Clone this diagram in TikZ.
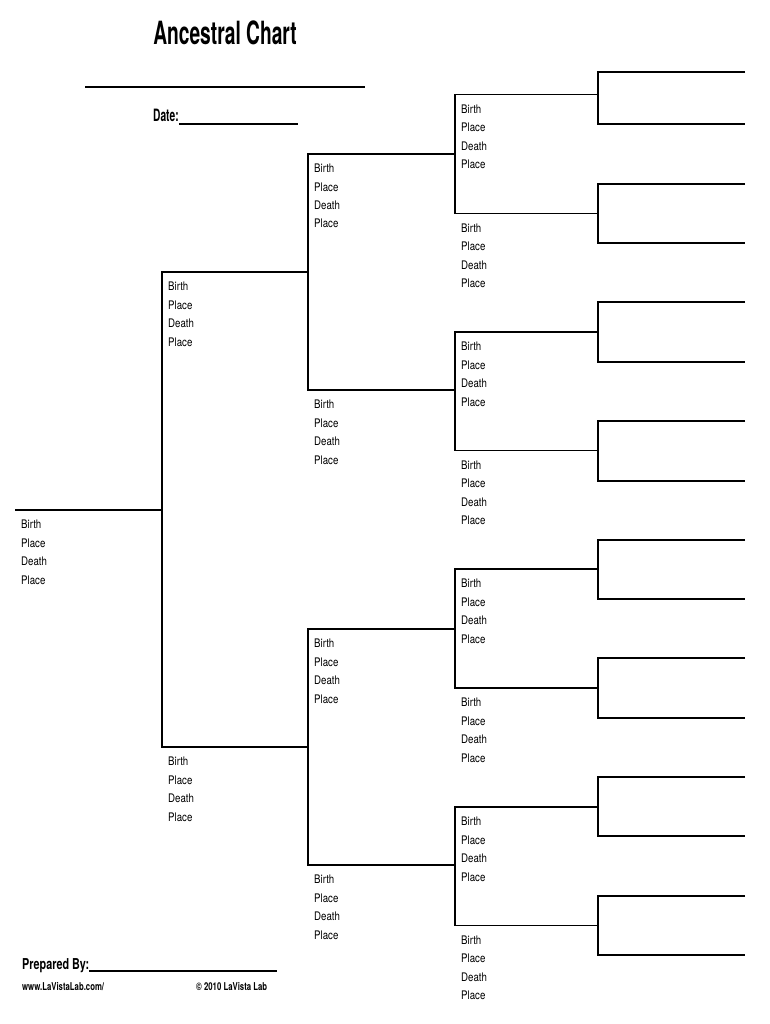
\documentclass[tikz,border=0pt]{standalone}
\usepackage{fontspec}
\setmainfont{TeX Gyre Heros}[FakeStretch=0.82]
\newfontfamily\headfont{TeX Gyre Heros}[FakeStretch=0.6]
\newfontfamily\formfont{TeX Gyre Heros}[FakeStretch=0.72]
\usetikzlibrary{positioning, calc}

\begin{document}
\begin{tikzpicture}[
  x=1pt, y=-1pt,
  rule/.style={line width=1.8pt, line join=miter},
  blank/.style={line width=1.2pt},
  vital/.style={anchor=base west, align=left, inner sep=0pt, font=\fontsize{11.8}{18.4}\selectfont},
  small/.style={anchor=base west, inner sep=0pt, font=\formfont\bfseries\fontsize{10.8}{12}\selectfont}
]
\useasboundingbox (0,0) rectangle (770,1024);

% header
\node[anchor=base, inner sep=0pt, font=\headfont\bfseries\fontsize{32}{36}\selectfont] (title) at (225,45) {Ancestral Chart};
\coordinate (nameL) at (85,87);
\coordinate (nameR) at (365,87);
\draw[rule] (nameL) -- (nameR);
\node[anchor=base west, inner sep=0pt, font=\headfont\bfseries\fontsize{17}{20}\selectfont] (date) at (153,122) {Date:};
\coordinate (dateR) at (298,124);
\draw[blank] (date.base east) ++(0,2) -- (dateR);

% people, numbered 1 (root) to 31
\coordinate (s1) at (15,510);   \coordinate (e1) at (162,510);
\foreach \k/\y in {2/272, 3/747}{
  \coordinate (s\k) at (162,\y); \coordinate (e\k) at (308,\y);}
\foreach \k/\y in {4/154, 5/390, 6/629, 7/865}{
  \coordinate (s\k) at (308,\y); \coordinate (e\k) at (455,\y);}
\foreach \k/\y in {8/94.5, 9/213.5, 10/332, 11/450.5, 12/569, 13/688, 14/807, 15/925.5}{
  \coordinate (s\k) at (455,\y); \coordinate (e\k) at (598,\y);}
\foreach \k/\y in {16/72, 17/124, 18/184, 19/243, 20/302, 21/362, 22/421, 23/481,
                   24/540, 25/599, 26/658, 27/718, 28/777, 29/836, 30/896, 31/955}{
  \coordinate (s\k) at (598,\y); \coordinate (e\k) at (745,\y);}

\draw[rule] (s1) -- (e1);
\foreach \k [evaluate=\k as \f using int(2*\k), evaluate=\k as \m using int(2*\k+1)] in {1,...,15}
  \draw[rule] (e\f) -- (s\f) -- (s\m) -- (e\m);

% the base of a four-line block is its last line
\foreach \k in {1,...,15}
  \node[vital] (v\k) at ($(s\k)+(6,74)$) {Birth\\Place\\Death\\Place};

% footer
\node[anchor=base west, inner sep=0pt, font=\formfont\bfseries\fontsize{15}{18}\selectfont] (prep) at (22,969) {Prepared By:};
\coordinate (prepR) at (277,971);
\draw[blank] (prep.base east) ++(0,2) -- (prepR);
\node[small] (web) at (22,990) {www.LaVistaLab.com/};
\node[small] (copy) at (196,990) {© 2010 LaVista Lab};
\end{tikzpicture}
\end{document}
